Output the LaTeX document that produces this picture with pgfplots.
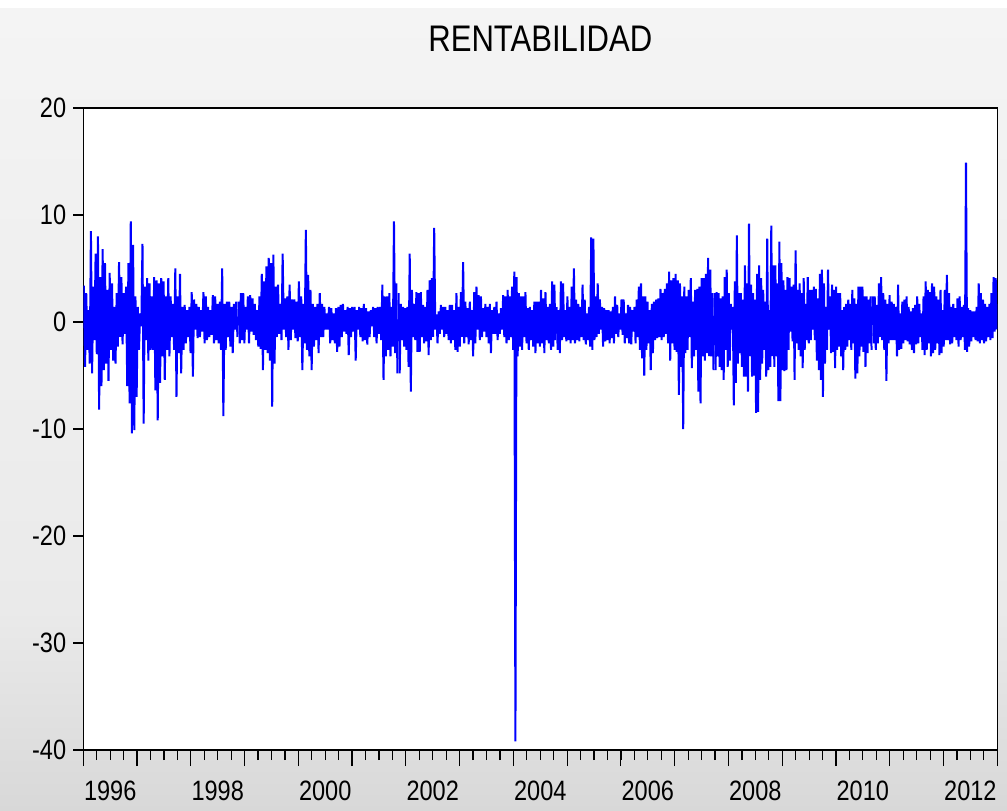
\documentclass[border=0pt]{standalone}
\usepackage{fontspec}
\setmainfont{Liberation Sans}[FakeStretch=0.84]
\usepackage{pgfplots}
\pgfplotsset{compat=1.18}
\usepackage{pgfplotstable}
\definecolor{serie}{HTML}{0000FF}
\definecolor{bgtop}{HTML}{F4F4F4}
\definecolor{bgmid}{HTML}{EAEAEA}
\definecolor{bgbot}{HTML}{D8D8D8}
\pgfplotsset{ret/.style={color=serie, line width=2bp, mark=none}}

\begin{document}
% daily returns, read off the picture as alternating highs and lows
\pgfplotstableread[row sep=\\,header=false]{
3.4\\ -4.2\\ 2.7\\ -2.6\\ 1.1\\ -3.9\\ 8.5\\ -4.8\\ 3.3\\ -1.7\\ 6.4\\ -3.0\\ 8.0\\ -8.2\\ 4.2\\ -6.0\\
6.8\\ -4.5\\ 5.5\\ -3.9\\ 3.0\\ -5.5\\ 4.6\\ -2.6\\ 3.6\\ -3.6\\ 1.4\\ -3.9\\ 2.7\\ -2.3\\ 5.6\\ -1.4\\
4.2\\ -2.1\\ 2.7\\ -1.1\\ 3.3\\ -6.0\\ 5.5\\ -7.6\\ 9.4\\ -10.4\\ 7.2\\ -10.1\\ 2.4\\ -7.0\\ 1.4\\ -2.6\\
0.8\\ -0.4\\ 7.3\\ -9.5\\ 3.3\\ -1.7\\ 4.1\\ -3.6\\ 3.6\\ -2.6\\ 2.4\\ -2.6\\ 4.2\\ -6.4\\ 3.9\\ -9.2\\
3.6\\ -5.7\\ 4.1\\ -3.2\\ 3.8\\ -5.4\\ 2.4\\ -2.6\\ 4.1\\ -3.2\\ 2.4\\ -1.4\\ 1.7\\ -2.6\\ 5.0\\ -7.0\\
2.4\\ -2.9\\ 4.5\\ -4.8\\ 1.4\\ -2.6\\ 1.6\\ -2.0\\ 1.1\\ -1.4\\ 1.4\\ -2.9\\ 2.8\\ -5.1\\ 2.1\\ -0.7\\
1.7\\ -1.5\\ 1.4\\ -1.4\\ 1.1\\ -0.9\\ 2.8\\ -2.0\\ 2.4\\ -1.7\\ 1.4\\ -1.4\\ 1.1\\ -1.2\\ 2.5\\ -2.0\\
2.4\\ -1.7\\ 1.7\\ -2.0\\ 1.9\\ -2.6\\ 5.0\\ -8.8\\ 1.7\\ -2.6\\ 1.9\\ -1.4\\ 1.9\\ -2.3\\ 1.4\\ -2.9\\
1.7\\ -0.7\\ 1.9\\ -1.4\\
}\segA
\pgfplotstableread[row sep=\\,header=false]{
1.9\\ -2.0\\ 2.7\\ -1.7\\ 2.7\\ -2.0\\ 1.4\\ -0.7\\ 2.4\\ -2.0\\ 2.5\\ -0.9\\ 2.2\\ -1.2\\ 1.7\\ -1.7\\
1.1\\ -2.3\\ 2.4\\ -2.5\\ 4.5\\ -4.5\\ 3.8\\ -2.6\\ 5.2\\ -2.9\\ 6.0\\ -3.6\\ 5.5\\ -7.9\\ 6.3\\ -3.9\\
3.3\\ -1.4\\ 3.5\\ -1.1\\ 1.7\\ -1.7\\ 6.4\\ -0.7\\ 2.2\\ -1.4\\ 2.4\\ -2.6\\ 3.5\\ -1.7\\ 2.1\\ -0.7\\
2.1\\ -1.5\\ 1.9\\ -1.8\\ 3.8\\ -1.4\\ 2.4\\ -4.5\\ 1.7\\ -2.0\\ 8.6\\ -2.6\\ 4.4\\ -3.2\\ 3.0\\ -4.5\\
1.7\\ -2.3\\ 1.4\\ -1.7\\ 1.7\\ -2.9\\ 2.7\\ -1.4\\ 1.7\\ -1.4\\ 1.4\\ -0.7\\ 0.8\\ -0.7\\ 1.4\\ -2.0\\
1.3\\ -1.7\\ 0.8\\ -2.0\\ 1.3\\ -2.8\\ 1.4\\ -2.3\\ 1.6\\ -1.4\\ 1.7\\ -0.9\\ 1.1\\ -1.1\\ 1.4\\ -3.1\\
1.3\\ -1.4\\ 1.4\\ -0.9\\ 1.4\\ -3.6\\ 1.1\\ -0.7\\ 1.4\\ -1.4\\ 1.3\\ -1.8\\ 1.7\\ -1.7\\ 1.3\\ -2.1\\
1.0\\ -1.4\\ 1.1\\ -0.4\\ 1.4\\ -1.4\\ 1.3\\ -2.0\\ 1.4\\ -1.1\\ 1.4\\ -1.7\\ 3.5\\ -5.4\\ 2.4\\ -3.2\\
2.4\\ -2.6\\ 2.7\\ -3.2\\ 1.4\\ -2.3\\ 9.4\\ -2.9\\ 3.6\\ -4.8\\
}\segB
\pgfplotstableread[row sep=\\,header=false]{
2.7\\ -4.8\\ 1.7\\ -1.7\\ 1.4\\ -2.3\\ 1.3\\ -2.6\\ 1.4\\ -4.2\\ 6.4\\ -6.5\\ 3.0\\ -1.4\\ 1.7\\ -1.7\\
2.8\\ -2.8\\ 2.7\\ -2.8\\ 2.8\\ -1.4\\ 1.6\\ -2.0\\ 1.4\\ -1.8\\ 3.0\\ -3.1\\ 3.9\\ -1.7\\ 4.1\\ -1.4\\
8.8\\ -0.7\\ 0.7\\ -2.0\\ 1.0\\ -1.1\\ 1.6\\ -0.7\\ 1.4\\ -1.4\\ 1.4\\ -1.1\\ 1.1\\ -1.7\\ 1.6\\ -2.0\\
1.6\\ -1.7\\ 1.1\\ -2.6\\ 2.7\\ -2.8\\ 1.4\\ -2.3\\ 2.8\\ -1.4\\ 5.6\\ -2.0\\ 1.9\\ -1.4\\ 1.3\\ -2.1\\
1.9\\ -1.7\\ 1.1\\ -3.2\\ 2.8\\ -2.0\\ 3.3\\ -0.7\\ 2.5\\ -1.7\\ 2.4\\ -1.4\\ 1.3\\ -0.9\\ 1.7\\ -1.4\\
1.4\\ -2.0\\ 1.7\\ -2.9\\ 1.1\\ -1.1\\ 1.4\\ -1.1\\ 1.9\\ -1.7\\ 0.8\\ -1.1\\ 1.3\\ -0.7\\ 2.5\\ -1.4\\
2.4\\ -2.0\\ 3.0\\ -1.7\\ 2.4\\ -1.4\\ 3.3\\ -2.6\\ 4.7\\ -39.2\\ 4.2\\ -3.2\\ 2.7\\ -2.3\\ 2.4\\ -2.6\\
2.4\\ -1.4\\ 2.8\\ -2.0\\ 1.3\\ -2.6\\ 1.4\\ -1.7\\ 1.1\\ -2.3\\ 1.9\\ -2.9\\ 1.9\\ -2.0\\ 1.9\\ -2.3\\
3.0\\ -2.0\\ 2.2\\ -2.9\\ 2.8\\ -1.7\\ 1.4\\ -2.0\\ 1.7\\ -2.6\\ 3.8\\ -2.3\\ 3.5\\ -1.7\\
}\segC
\pgfplotstableread[row sep=\\,header=false]{
1.4\\ -2.6\\ 1.1\\ -2.9\\ 3.8\\ -1.7\\ 3.6\\ -1.4\\ 1.1\\ -1.8\\ 2.4\\ -1.7\\ 1.4\\ -2.0\\ 3.3\\ -1.7\\
5.0\\ -2.0\\ 2.1\\ -1.7\\ 1.7\\ -1.8\\ 1.4\\ -1.4\\ 3.5\\ -1.7\\ 2.1\\ -2.1\\ 0.8\\ -1.7\\ 1.4\\ -2.3\\
7.9\\ -2.6\\ 7.8\\ -1.7\\ 2.4\\ -1.4\\ 3.6\\ -1.1\\ 2.1\\ -0.7\\ 1.4\\ -2.3\\ 1.3\\ -1.8\\ 1.1\\ -1.7\\
1.1\\ -2.0\\ 1.0\\ -1.5\\ 1.4\\ -2.0\\ 2.4\\ -1.1\\ 1.6\\ -1.4\\ 0.8\\ -0.7\\ 2.1\\ -1.2\\ 2.1\\ -2.0\\
0.8\\ -1.5\\ 1.6\\ -2.0\\ 1.4\\ -2.1\\ 1.1\\ -0.9\\ 1.4\\ -2.0\\ 2.1\\ -1.4\\ 3.3\\ -2.6\\ 3.6\\ -3.4\\
2.4\\ -5.0\\ 2.4\\ -2.6\\ 1.9\\ -2.0\\ 1.1\\ -4.5\\ 1.7\\ -2.9\\ 1.9\\ -1.7\\ 2.1\\ -1.5\\ 2.2\\ -1.4\\
3.1\\ -1.7\\ 2.7\\ -1.4\\ 3.1\\ -1.1\\ 3.6\\ -2.0\\ 4.7\\ -3.6\\ 3.9\\ -2.0\\ 4.1\\ -2.6\\ 4.5\\ -2.8\\
3.9\\ -6.8\\ 3.6\\ -4.2\\ 2.4\\ -10.0\\ 3.3\\ -2.9\\ 2.4\\ -2.6\\ 3.0\\ -1.4\\ 4.1\\ -4.3\\ 1.9\\ -3.2\\
3.0\\ -2.6\\ 3.1\\ -6.5\\ 3.3\\ -7.6\\ 4.1\\ -3.2\\ 4.1\\ -3.6\\ 4.5\\ -2.9\\ 6.0\\ -3.2\\ 4.9\\ -3.2\\
2.7\\ -4.5\\
}\segD
\pgfplotstableread[row sep=\\,header=false]{
2.7\\ -4.5\\ 2.8\\ -3.2\\ 2.7\\ -4.2\\ 2.2\\ -4.5\\ 2.4\\ -5.4\\ 4.2\\ -2.6\\ 4.9\\ -4.2\\ 2.7\\ -3.6\\
1.7\\ -0.7\\ 1.4\\ -7.8\\ 3.8\\ -5.7\\ 8.1\\ -3.9\\ 2.7\\ -2.9\\ 2.7\\ -4.2\\ 2.1\\ -5.1\\ 5.3\\ -5.1\\
3.6\\ -6.5\\ 9.2\\ -3.2\\ 3.5\\ -5.1\\ 2.7\\ -5.0\\ 2.1\\ -8.5\\ 4.5\\ -8.4\\ 5.3\\ -5.4\\ 4.1\\ -3.9\\
3.0\\ -2.6\\ 1.9\\ -5.1\\ 7.8\\ -4.5\\ 1.1\\ -4.2\\ 9.0\\ -3.2\\ 5.3\\ -4.2\\ 5.3\\ -3.2\\ 3.6\\ -7.4\\
7.5\\ -7.4\\ 5.5\\ -4.5\\ 3.9\\ -4.6\\ 3.0\\ -4.5\\ 4.2\\ -2.6\\ 4.1\\ -0.9\\ 3.3\\ -1.8\\ 3.5\\ -5.4\\
6.7\\ -2.0\\ 3.0\\ -2.6\\ 3.6\\ -3.2\\ 2.7\\ -4.3\\ 4.1\\ -2.6\\ 1.7\\ -1.7\\ 4.2\\ -2.0\\ 3.0\\ -1.7\\
3.0\\ -0.7\\ 3.3\\ -1.7\\ 3.1\\ -3.6\\ 2.2\\ -4.5\\ 4.5\\ -5.4\\ 4.9\\ -7.0\\ 3.6\\ -3.9\\ 1.4\\ -2.6\\
4.9\\ -0.7\\ 2.4\\ -2.9\\ 3.5\\ -2.8\\ 3.0\\ -4.3\\ 3.3\\ -2.6\\ 2.7\\ -2.3\\ 2.7\\ -3.2\\ 1.1\\ -4.5\\
1.4\\ -2.6\\ 1.7\\ -2.3\\ 2.1\\ -1.7\\ 1.7\\ -2.6\\ 3.0\\ -2.0\\ 2.2\\ -5.3\\ 1.7\\ -4.8\\ 3.3\\ -3.2\\
3.3\\ -2.3\\ 3.3\\ -2.8\\ 2.4\\ -4.2\\ 2.4\\ -2.9\\ 2.1\\ -2.0\\ 2.4\\ -2.6\\
}\segE
\pgfplotstableread[row sep=\\,header=false]{
2.4\\ -2.0\\ 2.4\\ -2.6\\ 1.6\\ -2.0\\ 3.6\\ -1.4\\ 4.2\\ -1.7\\ 2.7\\ -2.6\\ 2.1\\ -5.5\\ 1.7\\ -2.0\\
2.5\\ -1.7\\ 1.9\\ -1.7\\ 1.7\\ -1.7\\ 1.4\\ -3.2\\ 3.5\\ -2.6\\ 0.8\\ -2.5\\ 1.9\\ -2.0\\ 2.1\\ -1.7\\
2.4\\ -1.8\\ 1.4\\ -2.1\\ 1.0\\ -2.6\\ 1.3\\ -2.9\\ 1.6\\ -2.1\\ 2.4\\ -2.0\\ 1.7\\ -1.4\\ 0.8\\ -2.6\\
2.4\\ -3.1\\ 3.8\\ -2.6\\ 3.0\\ -2.0\\ 2.8\\ -3.2\\ 3.6\\ -2.9\\ 3.3\\ -2.6\\ 2.4\\ -2.0\\ 2.1\\ -3.1\\
3.0\\ -2.9\\ 1.1\\ -2.3\\ 3.0\\ -1.7\\ 4.4\\ -1.7\\ 2.7\\ -2.1\\ 1.4\\ -2.0\\ 1.7\\ -1.4\\ 1.3\\ -1.7\\
2.2\\ -2.3\\ 2.4\\ -1.7\\ 1.4\\ -1.4\\ 1.6\\ -2.6\\ 14.9\\ -2.8\\ 1.3\\ -2.3\\ 1.1\\ -1.8\\ 1.0\\ -1.4\\
1.0\\ -1.7\\ 1.4\\ -1.8\\ 3.6\\ -2.0\\ 2.7\\ -1.7\\ 2.1\\ -2.0\\ 1.7\\ -1.8\\ 1.4\\ -1.4\\ 1.7\\ -1.7\\
2.7\\ -1.5\\ 4.2\\ -0.9\\ 4.1\\ -0.7\\
}\segF
\pgfplotstablegetrowsof{\segA}\let\nA\pgfplotsretval
\pgfplotstablegetrowsof{\segB}\let\nB\pgfplotsretval
\pgfplotstablegetrowsof{\segC}\let\nC\pgfplotsretval
\pgfplotstablegetrowsof{\segD}\let\nD\pgfplotsretval
\pgfplotstablegetrowsof{\segE}\let\nE\pgfplotsretval
\pgfplotstablegetrowsof{\segF}\let\nF\pgfplotsretval

\begin{tikzpicture}
\path[use as bounding box] (0,0) rectangle (1007bp,811bp);
\shade[top color=bgmid, bottom color=bgbot] (0,0) rectangle (1007bp,201bp);
\shade[top color=bgtop, bottom color=bgmid] (0,200bp) rectangle (1007bp,803bp);
\fill[white] (0,803bp) rectangle (1007bp,811bp);
\begin{axis}[
  at={(83.3bp,61bp)}, anchor=south west,
  scale only axis, width=914bp, height=642bp,
  xmin=1996, xmax=2013, ymin=-40, ymax=20,
  axis background/.style={fill=white},
  axis line style={black, line width=1.3bp},
  every tick/.style={black, line width=1.2bp},
  tick align=outside, tick pos=left,
  major tick length=10bp,
  xtick={1996,1996.25,...,2013}, xticklabels={},
  extra x ticks={1996,...,2013},
  extra x tick labels={1996,,1998,,2000,,2002,,2004,,2006,,2008,,2010,,2012,,},
  extra x tick style={major tick length=16bp,
    xticklabel style={anchor=north, inner sep=0pt, xshift=26.88bp, yshift=-15bp}},
  ytick={-40,-30,...,20},
  yticklabels={-40,-30,-20,-10,0,10,20},
  yticklabel style={anchor=east, inner sep=0pt, xshift=-7bp},
  tick label style={font=\fontsize{28bp}{30bp}\selectfont},
]
\addplot[ret] table[x expr={1996+(\coordindex+0.5)*2.8776/\nA}, y index=0] {\segA};
\addplot[ret] table[x expr={1998.8776+(\coordindex+0.5)*2.9762/\nB}, y index=0] {\segB};
\addplot[ret] table[x expr={2001.8538+(\coordindex+0.5)*2.9390/\nC}, y index=0] {\segC};
\addplot[ret] table[x expr={2004.7928+(\coordindex+0.5)*2.9390/\nD}, y index=0] {\segD};
\addplot[ret] table[x expr={2007.7318+(\coordindex+0.5)*2.9390/\nE}, y index=0] {\segE};
\addplot[ret] table[x expr={2010.6708+(\coordindex+0.5)*2.3292/\nF}, y index=0] {\segF};
\end{axis}
\node[anchor=base, font=\fontsize{37bp}{40bp}\selectfont] at (540.3bp,759bp) {RENTABILIDAD};
\end{tikzpicture}
\end{document}
